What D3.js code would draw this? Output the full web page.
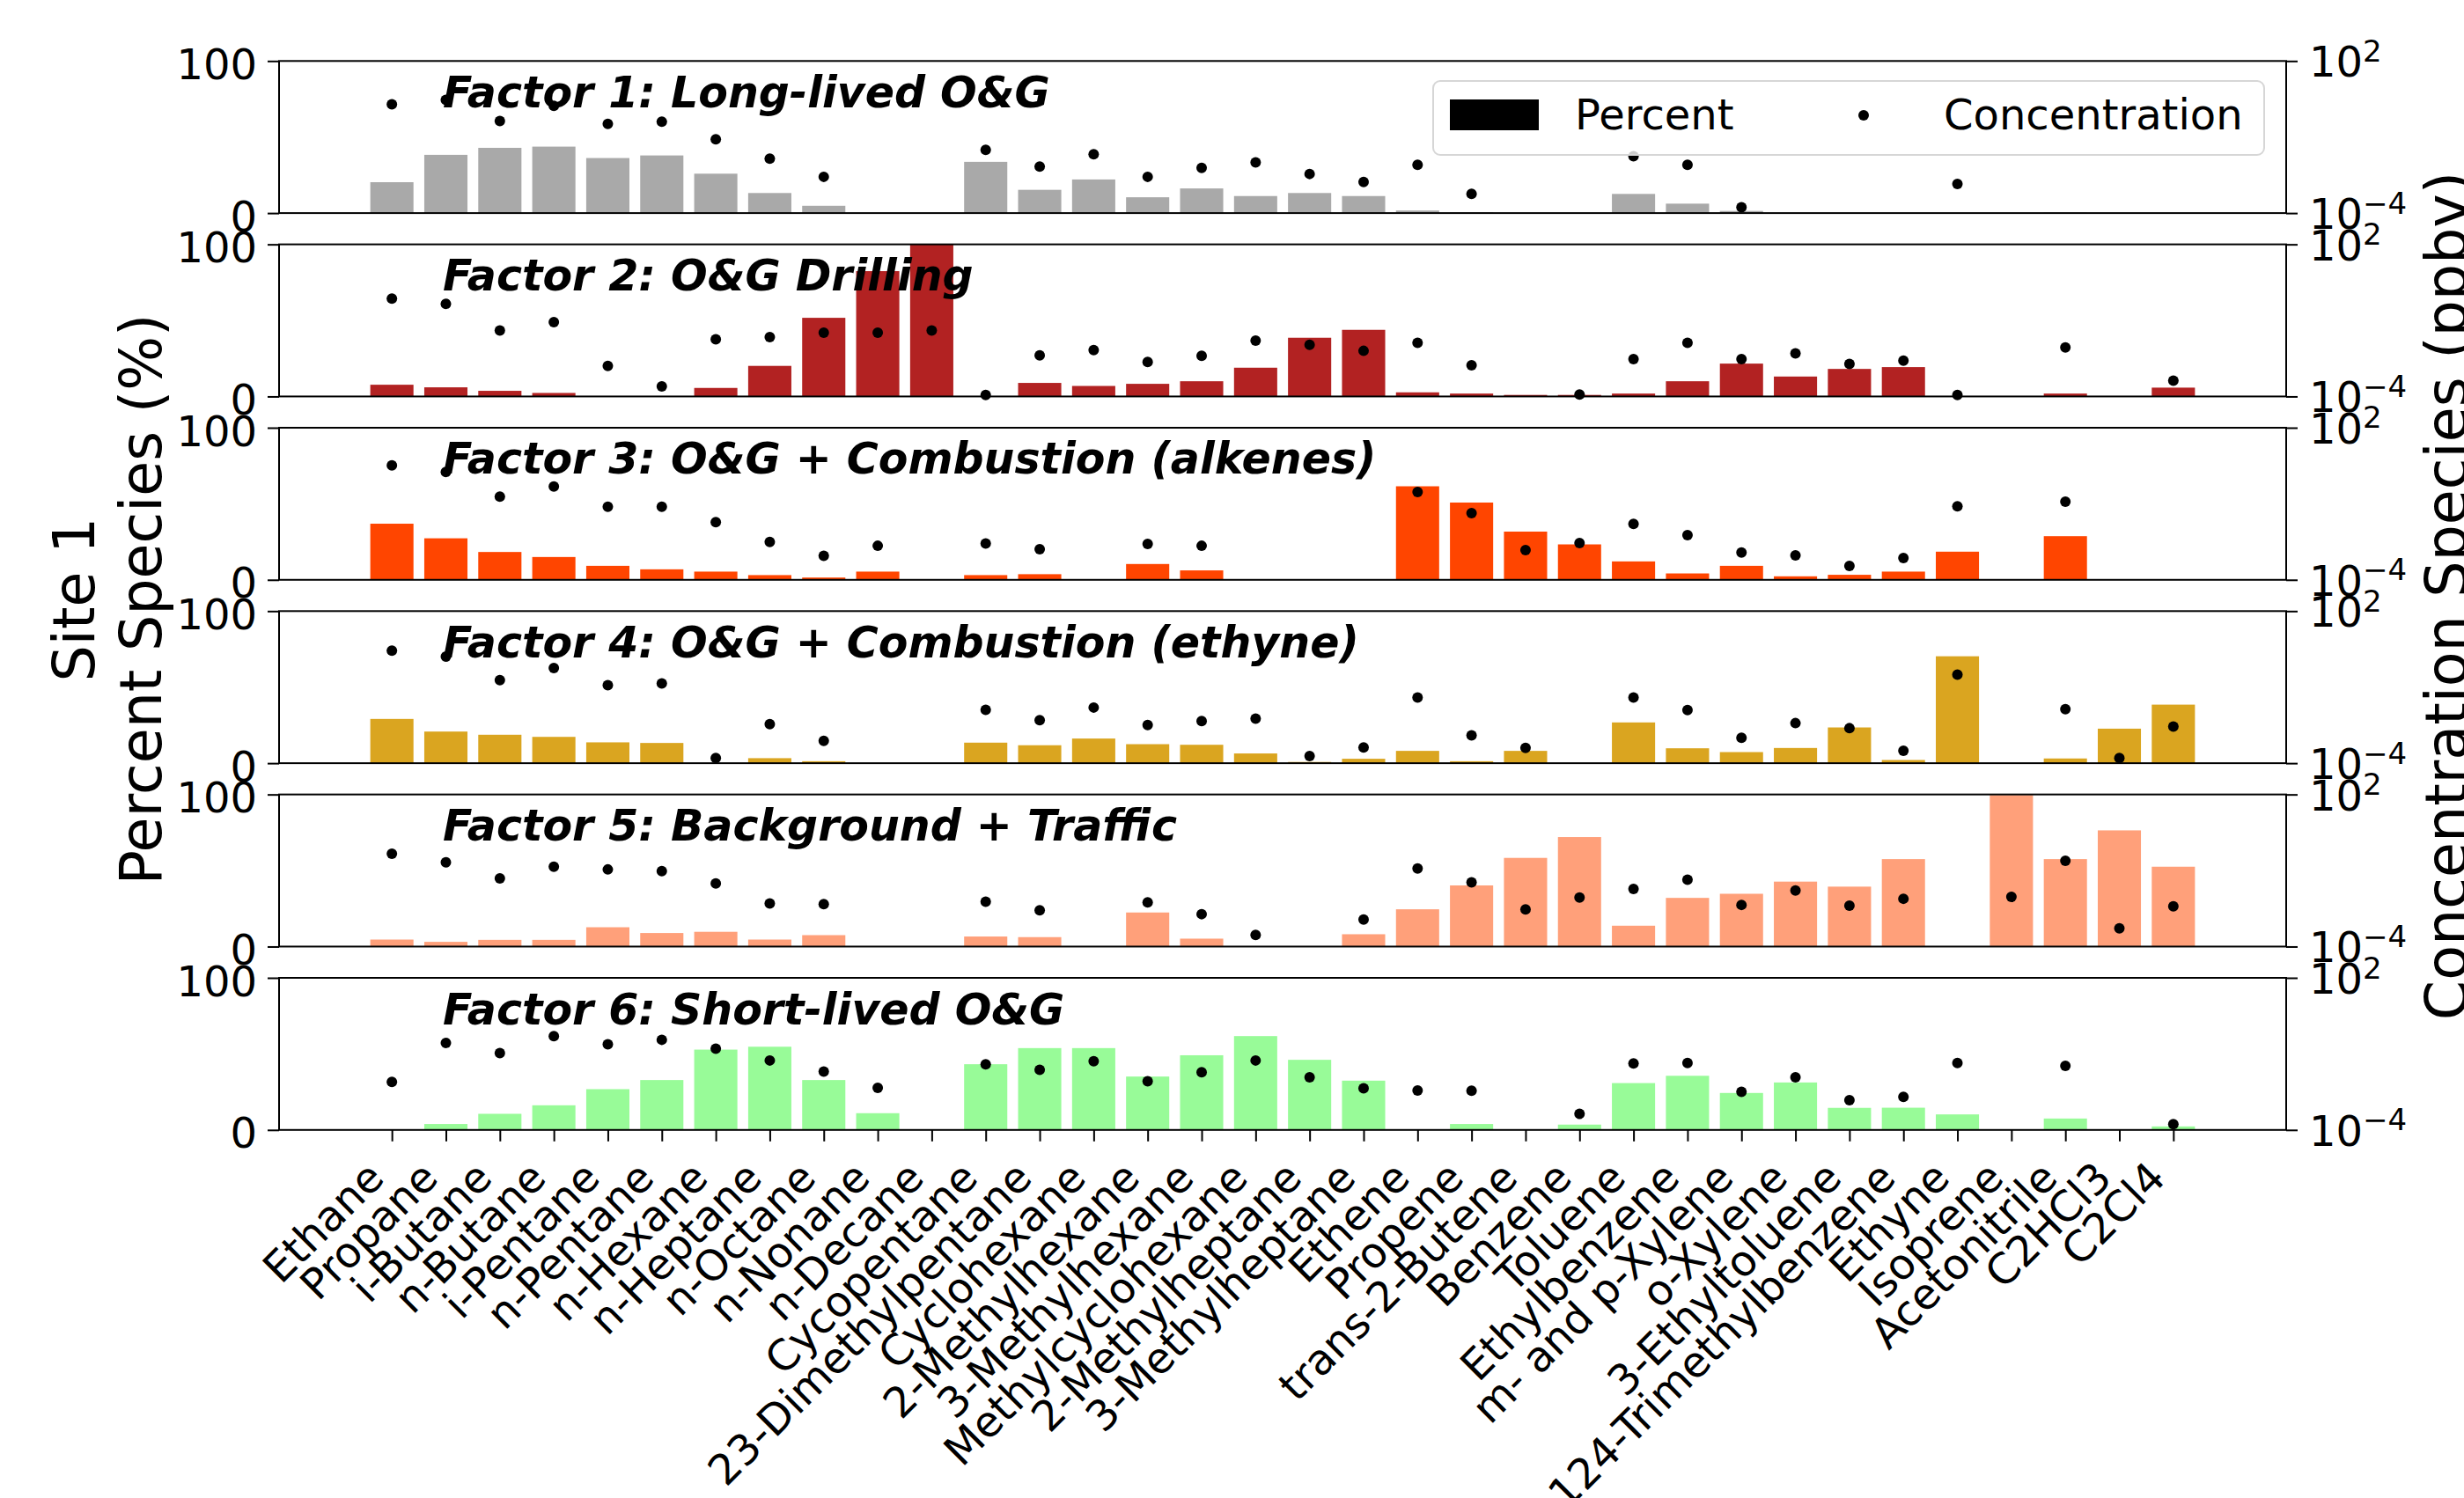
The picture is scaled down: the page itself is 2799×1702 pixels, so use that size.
<!DOCTYPE html>
<html>
<head>
<meta charset="utf-8">
<title>Site 1 factor profiles</title>
<script src="https://cdn.jsdelivr.net/npm/d3@7"></script>
<style>
    html, body { margin: 0; padding: 0; background: #fff; }
    svg { display: block; font-family: "DejaVu Sans", sans-serif; }
</style>
</head>
<body>
<svg id="chart" width="2799" height="1702"></svg>
<script>
// Species on the x axis (same order as the source figure)
const species = [
    'Ethane', 'Propane', 'i-Butane', 'n-Butane', 'i-Pentane', 'n-Pentane', 'n-Hexane',
    'n-Heptane', 'n-Octane', 'n-Nonane', 'n-Decane', 'Cycopentane', '23-Dimethylpentane',
    'Cyclohexane', '2-Methylhexane', '3-Methylhexane', 'Methylcyclohexane', '2-Methylheptane',
    '3-Methylheptane', 'Ethene', 'Propene', 'trans-2-Butene', 'Benzene', 'Toluene',
    'Ethylbenzene', 'm- and p-Xylene', 'o-Xylene', '3-Ethyltoluene', '124-Trimethylbenzene',
    'Ethyne', 'Isoprene', 'Acetonitrile', 'C2HCl3', 'C2Cl4'
];

const factorTitles = [
    'Factor 1: Long-lived O&G',
    'Factor 2: O&G Drilling',
    'Factor 3: O&G + Combustion (alkenes)',
    'Factor 4: O&G + Combustion (ethyne)',
    'Factor 5: Background + Traffic',
    'Factor 6: Short-lived O&G'
];

const factorColors = ['#a9a9a9', '#b22222', '#ff4500', '#daa520', '#ffa07a', '#98fb98'];

// Percent of species (%), left axis
const pctF1 = [20.3, 38.3, 42.9, 43.7, 36.2, 37.9, 25.9, 13.2, 4.8, 0, 0, 33.7, 15.3, 22.1, 10.4, 16.2, 11.2, 13.2, 11.2, 1.7, 0.5, 0, 0, 12.6, 6.2, 1.4, 0, 0, 0, 0, 0, 0.3, 0, 0];
const pctF2 = [7.7, 6.0, 3.7, 2.3, 0, 0, 5.6, 20.1, 51.7, 82.4, 100, 0, 8.9, 6.9, 8.3, 10.0, 18.9, 38.6, 43.8, 2.7, 1.9, 1.0, 1.0, 1.9, 10.0, 21.6, 13.1, 18.1, 19.3, 0, 0, 1.9, 0, 5.8];
const pctF3 = [36.9, 27.3, 18.3, 15.0, 9.2, 6.9, 5.4, 3.1, 1.5, 5.4, 0, 3.1, 3.7, 0, 10.4, 6.2, 0, 0, 0, 61.5, 50.8, 31.7, 23.3, 12.1, 4.2, 9.2, 2.3, 3.3, 5.4, 18.5, 0, 28.7, 0, 0];
const pctF4 = [29.1, 20.8, 18.7, 17.3, 13.7, 13.3, 0, 3.3, 1.3, 0, 0, 13.5, 11.8, 16.2, 12.5, 12.1, 6.4, 0.8, 2.9, 8.1, 1.3, 8.1, 0, 26.8, 9.8, 7.3, 10.0, 23.5, 2.1, 70.3, 0, 3.1, 22.7, 38.5];
const pctF5 = [4.6, 3.1, 4.4, 4.4, 12.7, 8.9, 9.7, 4.6, 7.5, 0, 0, 6.6, 6.2, 0, 22.4, 5.2, 0, 0, 8.1, 24.5, 40.2, 58.3, 72.0, 13.7, 32.0, 34.7, 42.7, 39.4, 57.5, 0, 99.6, 57.5, 76.4, 52.5];
const pctF6 = [0, 3.9, 10.6, 16.2, 26.8, 32.8, 52.8, 54.7, 32.8, 11.0, 0, 43.2, 53.8, 53.8, 35.1, 49.1, 61.7, 46.1, 32.4, 0, 3.9, 0, 3.5, 30.8, 35.6, 24.3, 31.2, 14.5, 14.6, 10.2, 0, 7.5, 0, 2.3];

// Concentration of species (ppbv), right log axis; null = not plotted
const concF1 = [1.95, 2.9, 0.43, 1.7, 0.33, 0.40, 0.082, 0.014, 0.0027, null, null, 0.031, 0.0068, 0.021, 0.0027, 0.0061, 0.010, 0.0035, 0.0017, 0.0080, 0.00057, null, null, 0.0174, 0.0080, 0.00017, null, null, null, 0.0014, null, null, null, null];
const concF2 = [0.72, 0.45, 0.040, 0.085, 0.0016, 0.00025, 0.018, 0.022, 0.033, 0.033, 0.040, 0.000115, 0.0042, 0.0068, 0.0023, 0.0040, 0.016, 0.011, 0.0063, 0.013, 0.0017, null, 0.00012, 0.0030, 0.013, 0.0030, 0.0050, 0.0019, 0.0026, 0.000115, null, 0.0086, null, 0.00042];
const concF3 = [3.3, 1.8, 0.19, 0.48, 0.077, 0.077, 0.019, 0.0031, 0.00088, 0.0022, null, 0.0027, 0.0016, null, 0.0026, 0.0022, null, null, null, 0.29, 0.043, 0.0015, 0.0028, 0.016, 0.0058, 0.0012, 0.00093, 0.00035, 0.00073, 0.079, null, 0.12, null, null];
const concF4 = [2.75, 1.6, 0.19, 0.57, 0.12, 0.14, 0.00016, 0.0035, 0.00076, null, null, 0.0127, 0.0050, 0.0157, 0.0032, 0.0046, 0.0057, 0.00019, 0.00042, 0.039, 0.00125, 0.00040, null, 0.039, 0.0124, 0.00101, 0.0038, 0.0024, 0.00031, 0.31, null, 0.0134, 0.00016, 0.0028];
const concF5 = [0.46, 0.21, 0.049, 0.14, 0.11, 0.095, 0.031, 0.0050, 0.0047, null, null, 0.0059, 0.0027, null, 0.0055, 0.0019, 0.00029, null, 0.00116, 0.12, 0.034, 0.0029, 0.0086, 0.0186, 0.043, 0.0044, 0.0163, 0.0041, 0.0077, null, 0.0091, 0.24, 0.00052, 0.0039];
const concF6 = [0.0079, 0.27, 0.107, 0.50, 0.24, 0.36, 0.16, 0.055, 0.020, 0.0046, null, 0.039, 0.0235, 0.051, 0.0083, 0.019, 0.055, 0.012, 0.0044, 0.0036, 0.0035, null, 0.00043, 0.042, 0.044, 0.0032, 0.012, 0.0015, 0.0020, 0.044, null, 0.034, null, 0.00017];

const pctTicks = [0, 100];
const concTicks = [1e-4, 1e2];

const percents = [pctF1, pctF2, pctF3, pctF4, pctF5, pctF6];
const concs = [concF1, concF2, concF3, concF4, concF5, concF6];

// Layout
const plotLeft = 317;
const plotRight = 2597;
const firstTop = 69.3;
const panelStep = 208.34;
const panelH = 172.8;
const barWidth = 0.8;
const tickFont = 48;
const titleFont = 49;

const svg = d3.select('#chart');
svg.append('rect').attr('width', 2799).attr('height', 1702).attr('fill', '#fff');

// matplotlib-like x limits: bar extents plus 5% margin
const n = species.length;
const span = (n - 1) + barWidth;
const margin = 0.05 * span;
const x = d3.scaleLinear()
    .domain([-barWidth / 2 - margin, n - 1 + barWidth / 2 + margin])
    .range([plotLeft, plotRight]);

function powerLabel(sel) {
    sel.each(function (d) {
        const t = d3.select(this);
        const exp = Math.round(Math.log10(d));
        t.text(null);
        t.append('tspan').text('10');
        t.append('tspan')
            .attr('dy', -17.5)
            .attr('font-size', 34)
            .text(exp < 0 ? '\u2212' + Math.abs(exp) : String(exp));
    });
}

percents.forEach((pct, i) => {
    const top = firstTop + i * panelStep;
    const bottom = top + panelH;
    const conc = concs[i];

    const yPct = d3.scaleLinear().domain([0, 100]).range([bottom, top]);
    const yConc = d3.scaleLog().domain([1e-4, 1e2]).range([bottom, top]);

    const g = svg.append('g').attr('class', 'panel');

    // Bars (percent)
    g.append('g')
        .selectAll('rect')
        .data(pct.map((v, k) => ({ k, v })).filter(d => d.v > 0))
        .enter()
        .append('rect')
        .attr('x', d => x(d.k - barWidth / 2))
        .attr('width', d => x(d.k + barWidth / 2) - x(d.k - barWidth / 2))
        .attr('y', d => yPct(d.v))
        .attr('height', d => yPct(0) - yPct(d.v))
        .attr('fill', factorColors[i]);

    // Dots (concentration, log scale)
    g.append('g')
        .selectAll('circle')
        .data(conc.map((v, k) => ({ k, v })).filter(d => d.v !== null))
        .enter()
        .append('circle')
        .attr('cx', d => x(d.k))
        .attr('cy', d => yConc(d.v))
        .attr('r', 6)
        .attr('fill', '#000');

    // Panel title
    g.append('text')
        .attr('x', 503)
        .attr('y', top + 52.5)
        .attr('font-size', titleFont)
        .attr('font-weight', 'bold')
        .attr('font-style', 'italic')
        .text(factorTitles[i]);

    // Left axis (percent)
    const left = g.append('g')
        .attr('transform', `translate(${plotLeft},0)`)
        .call(d3.axisLeft(yPct).tickValues(pctTicks).tickSize(13).tickSizeOuter(0).tickPadding(12));
    left.select('.domain').remove();
    left.selectAll('line').attr('stroke', '#000').attr('stroke-width', 2);
    left.selectAll('text')
        .attr('font-size', tickFont)
        .attr('font-family', '"DejaVu Sans", sans-serif')
        .attr('fill', '#000')
        .attr('dy', '0.42em');

    // Right axis (concentration)
    const right = g.append('g')
        .attr('transform', `translate(${plotRight},0)`)
        .call(d3.axisRight(yConc).tickValues(concTicks).tickSize(13).tickSizeOuter(0).tickPadding(13));
    right.select('.domain').remove();
    right.selectAll('line').attr('stroke', '#000').attr('stroke-width', 2);
    right.selectAll('text')
        .attr('font-size', tickFont)
        .attr('font-family', '"DejaVu Sans", sans-serif')
        .attr('fill', '#000')
        .attr('dy', 17.5)
        .call(powerLabel);

    // Bottom axis only on the last panel
    if (i === percents.length - 1) {
        const bottomAxis = g.append('g')
            .attr('transform', `translate(0,${bottom})`)
            .call(d3.axisBottom(x)
                .tickValues(d3.range(n))
                .tickFormat(k => species[k])
                .tickSize(13)
                .tickSizeOuter(0));
        bottomAxis.select('.domain').remove();
        bottomAxis.selectAll('line').attr('stroke', '#000').attr('stroke-width', 2);
        bottomAxis.selectAll('text')
            .attr('font-size', tickFont)
            .attr('font-family', '"DejaVu Sans", sans-serif')
            .attr('fill', '#000')
            .attr('text-anchor', 'end')
            .attr('y', null)
            .attr('dy', null)
            .attr('transform', 'translate(-7,57) rotate(-45)');
    }

    // Spines
    g.append('rect')
        .attr('x', plotLeft)
        .attr('y', top)
        .attr('width', plotRight - plotLeft)
        .attr('height', panelH)
        .attr('fill', 'none')
        .attr('stroke', '#000')
        .attr('stroke-width', 2);

    // Legend in the first panel
    if (i === 0) {
        const lg = g.append('g');
        lg.append('rect')
            .attr('x', 1628).attr('y', 92)
            .attr('width', 944).attr('height', 84)
            .attr('rx', 8)
            .attr('fill', '#fff').attr('fill-opacity', 0.8)
            .attr('stroke', '#d6d6d6').attr('stroke-width', 2);
        lg.append('rect')
            .attr('x', 1647).attr('y', 113)
            .attr('width', 101).attr('height', 35)
            .attr('fill', '#000');
        lg.append('text')
            .attr('x', 1789).attr('y', 147)
            .attr('font-size', tickFont)
            .text('Percent');
        lg.append('circle')
            .attr('cx', 2117).attr('cy', 131).attr('r', 6)
            .attr('fill', '#000');
        lg.append('text')
            .attr('x', 2208).attr('y', 147)
            .attr('font-size', tickFont)
            .text('Concentration');
    }
});

// Axis titles
const yMid = 681;
svg.append('text')
    .attr('transform', `translate(107,${yMid}) rotate(-90)`)
    .attr('text-anchor', 'middle')
    .attr('font-size', 65)
    .text('Site 1');
svg.append('text')
    .attr('transform', `translate(183,${yMid}) rotate(-90)`)
    .attr('text-anchor', 'middle')
    .attr('font-size', 65)
    .text('Percent Species (%)');
svg.append('text')
    .attr('transform', `translate(2802,677) rotate(-90)`)
    .attr('text-anchor', 'middle')
    .attr('font-size', 65)
    .text('Concentration Species (ppbv)');
</script>
</body>
</html>
